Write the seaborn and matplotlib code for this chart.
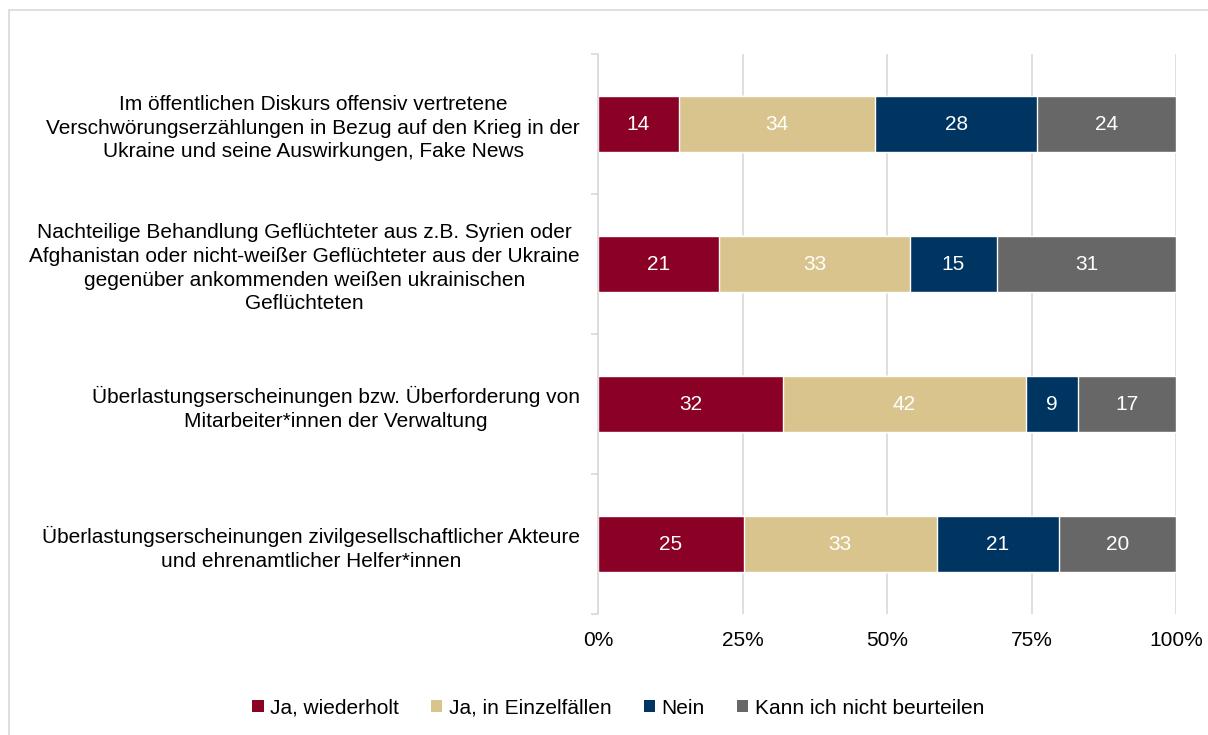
import matplotlib
matplotlib.use("Agg")
import matplotlib.pyplot as plt
from matplotlib.patches import Rectangle, Patch
from matplotlib.ticker import FixedLocator, PercentFormatter
import numpy as np
import pandas as pd
import seaborn as sns

categories = [
    "Im öffentlichen Diskurs offensiv vertretene\nVerschwörungserzählungen in Bezug auf den Krieg in der\nUkraine und seine Auswirkungen, Fake News",
    "Nachteilige Behandlung Geflüchteter aus z.B. Syrien oder\nAfghanistan oder nicht-weißer Geflüchteter aus der Ukraine\ngegenüber ankommenden weißen ukrainischen\nGeflüchteten",
    "Überlastungserscheinungen bzw. Überforderung von\nMitarbeiter*innen der Verwaltung",
    "Überlastungserscheinungen zivilgesellschaftlicher Akteure\nund ehrenamtlicher Helfer*innen",
]
series = ["Ja, wiederholt", "Ja, in Einzelfällen", "Nein", "Kann ich nicht beurteilen"]
ja_wiederholt = [14, 21, 32, 25]
ja_einzelfaelle = [34, 33, 42, 33]
nein = [28, 15, 9, 21]
kann_nicht = [24, 31, 17, 20]
colors = ["#8b0025", "#d9c48e", "#003562", "#676767"]

sns.set_theme(style="white")
plt.rcParams["font.family"] = ["Liberation Sans", "DejaVu Sans"]
plt.rcParams["text.color"] = "black"
FS = 15

values = np.array([ja_wiederholt, ja_einzelfaelle, nein, kann_nicht], dtype=float)
shares = values / values.sum(axis=0) * 100.0
cum = np.cumsum(shares, axis=0)

fig = plt.figure(figsize=(12.08, 7.35), dpi=100)
ax = fig.add_axes([598 / 1208, 1 - 614 / 735, (1176 - 598) / 1208, (614 - 54) / 735])

# stacked bars: draw cumulative totals from the outermost segment inwards
for i in range(len(series) - 1, -1, -1):
    df = pd.DataFrame({"cat": categories, "val": cum[i]})
    sns.barplot(data=df, x="val", y="cat", orient="h", color=colors[i],
                width=0.4, saturation=1, ax=ax, zorder=2)

# value labels in the middle of each segment
for i in range(len(series)):
    for j in range(len(categories)):
        start = cum[i, j] - shares[i, j]
        ax.text(start + shares[i, j] / 2, j, f"{values[i, j]:.0f}",
                ha="center", va="center", color="white", fontsize=FS, zorder=3)

ax.set_xlim(0, 100)
ax.set_ylim(len(categories) - 0.5, -0.5)
ax.set_xlabel("")
ax.set_ylabel("")
ax.xaxis.set_major_locator(FixedLocator([0, 25, 50, 75, 100]))
ax.xaxis.set_major_formatter(PercentFormatter(decimals=0))
ax.grid(axis="x", color="#d9d9d9", linewidth=1.2, zorder=0)
ax.set_axisbelow(True)
for s in ["top", "right", "bottom"]:
    ax.spines[s].set_visible(False)
ax.spines["left"].set_color("#d9d9d9")
ax.spines["left"].set_linewidth(1.2)

ax.tick_params(axis="x", length=0, pad=12, labelsize=FS, labelcolor="black")
ax.tick_params(axis="y", which="major", length=0, pad=13, labelsize=FS, labelcolor="black")
ax.yaxis.set_minor_locator(FixedLocator(np.arange(-0.5, len(categories), 1.0)))
ax.tick_params(axis="y", which="minor", left=True, length=5, width=1.2, color="#d9d9d9")
for lbl in ax.get_yticklabels():
    lbl.set_multialignment("center")
    lbl.set_linespacing(1.3)

handles = [Patch(facecolor=c, edgecolor="none") for c in colors]
fig.legend(handles, series, loc="center", bbox_to_anchor=(618 / 1208, 1 - 708 / 735),
           ncol=4, frameon=False, fontsize=FS, handlelength=0.55, handleheight=0.55,
           handletextpad=0.3, columnspacing=1.55, labelcolor="black")

fig.add_artist(Rectangle((9 / 1208, -0.1), 1.2, 0.1 + (735 - 10) / 735,
                         transform=fig.transFigure, fill=False,
                         edgecolor="#d9d9d9", linewidth=1.2, zorder=0))

fig.savefig("out.png", dpi=100)
